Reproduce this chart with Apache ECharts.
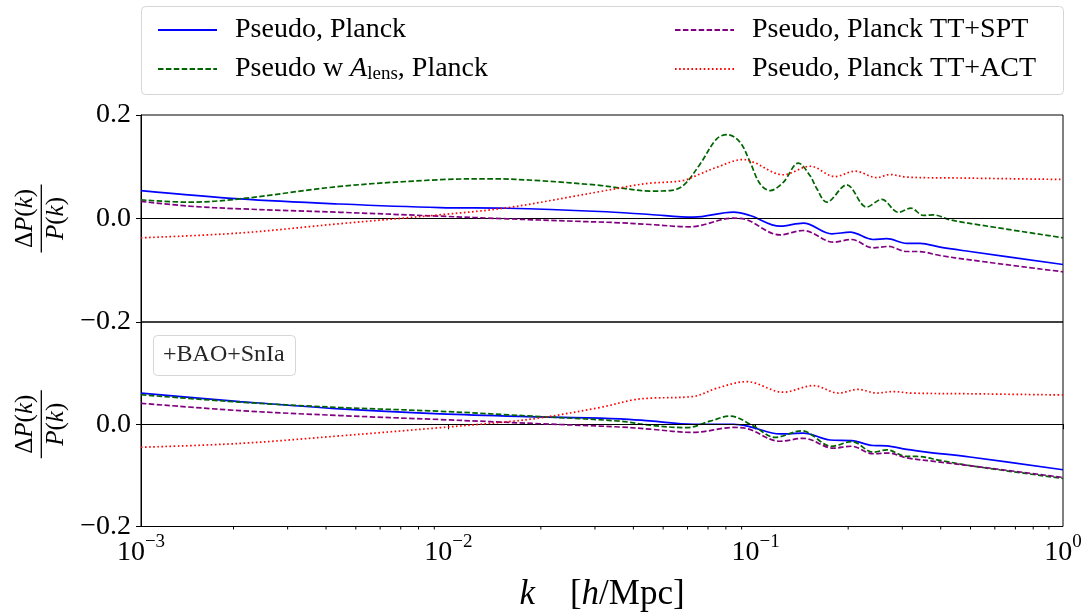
<!DOCTYPE html>
<html>
<head>
<meta charset="utf-8">
<script src="https://cdn.jsdelivr.net/npm/echarts@6/dist/echarts.min.js"></script>
<style>
  html, body { margin: 0; padding: 0; background: #fff; }
  #chart { width: 1089px; height: 613px; }
</style>
</head>
<body>
<div id="chart"></div>
<script>
// Relative power-spectrum deviation ΔP/P versus k, two panels:
// upper = Planck-only fits, lower = fits with +BAO+SnIa.

// ---- upper panel ----
const kPlanckU = [0.001, 0.0021, 0.00444, 0.0094, 0.0155, 0.0311, 0.0453, 0.0627, 0.0846, 0.0959, 0.120, 0.143, 0.177, 0.203, 0.241, 0.267, 0.310, 0.343, 0.398, 0.498, 1.0];
const dPlanckU = [0.054, 0.038, 0.028, 0.021, 0.0198, 0.0135, 0.0077, 0.0025, 0.0122, 0.0058, -0.0149, -0.009, -0.0296, -0.0264, -0.0406, -0.039, -0.048, -0.048, -0.0554, -0.0638, -0.0889];

const kAlensU = [0.001, 0.00144, 0.0021, 0.00444, 0.0094, 0.0137, 0.0199, 0.0311, 0.0362, 0.0453, 0.0526, 0.0582, 0.0659, 0.0747, 0.0811, 0.0889, 0.0959, 0.1033, 0.1114, 0.123, 0.1376, 0.1502, 0.158, 0.1703, 0.1978, 0.2298, 0.2571, 0.2911, 0.320, 0.3511, 0.3784, 0.4289, 0.492, 1.0];
const dAlensU = [0.036, 0.0315, 0.038, 0.062, 0.075, 0.0767, 0.073, 0.064, 0.059, 0.053, 0.054, 0.064, 0.105, 0.154, 0.162, 0.1475, 0.109, 0.067, 0.054, 0.070, 0.107, 0.083, 0.058, 0.0315, 0.065, 0.022, 0.037, 0.012, 0.020, 0.006, 0.007, -0.0025, -0.009, -0.0373];

const kSptU = [0.001, 0.00144, 0.0021, 0.00444, 0.0094, 0.0155, 0.0254, 0.0362, 0.0453, 0.0610, 0.0846, 0.0935, 0.120, 0.143, 0.179, 0.205, 0.241, 0.270, 0.310, 0.338, 0.398, 0.498, 1.0];
const dSptU = [0.033, 0.0238, 0.0187, 0.012, 0.0045, -0.0006, -0.0052, -0.0083, -0.0116, -0.016, 0.0006, -0.0025, -0.0315, -0.0232, -0.0457, -0.0406, -0.0567, -0.054, -0.0638, -0.0638, -0.0715, -0.080, -0.103];

const kActU = [0.001, 0.0021, 0.00444, 0.0094, 0.0155, 0.0254, 0.0311, 0.0362, 0.040, 0.0453, 0.0582, 0.0659, 0.0747, 0.0912, 0.0982, 0.123, 0.1502, 0.1812, 0.2104, 0.2476, 0.2735, 0.310, 0.498, 1.0];
const dActU = [-0.0373, -0.028, -0.010, 0.0072, 0.0207, 0.0425, 0.052, 0.059, 0.0638, 0.0683, 0.0734, 0.086, 0.099, 0.114, 0.109, 0.0845, 0.101, 0.081, 0.0914, 0.079, 0.085, 0.080, 0.078, 0.0754];

// ---- lower panel (+BAO+SnIa) ----
const kPlanckL = [0.001, 0.0021, 0.00444, 0.0094, 0.0199, 0.0362, 0.0453, 0.0627, 0.0846, 0.0959, 0.120, 0.143, 0.1745, 0.2053, 0.2414, 0.2669, 0.310, 0.360, 0.498, 1.0];
const dPlanckL = [0.0607, 0.0444, 0.030, 0.0204, 0.0144, 0.0106, 0.0065, 0.0, 0.0, -0.005, -0.019, -0.0173, -0.0308, -0.032, -0.0416, -0.0423, -0.0493, -0.0545, -0.064, -0.089];

const kAlensL = [0.001, 0.0021, 0.00444, 0.0094, 0.0199, 0.0362, 0.0453, 0.0596, 0.0711, 0.0825, 0.0982, 0.1156, 0.1412, 0.1768, 0.2053, 0.2414, 0.2669, 0.310, 0.334, 0.398, 0.498, 1.0];
const dAlensL = [0.0577, 0.0433, 0.0327, 0.0254, 0.015, 0.006, -0.0019, -0.0067, 0.006, 0.016, -0.0032, -0.0256, -0.0128, -0.043, -0.034, -0.0545, -0.050, -0.063, -0.063, -0.0706, -0.081, -0.106];

const kSptL = [0.001, 0.0021, 0.00444, 0.0094, 0.0199, 0.0362, 0.0453, 0.0627, 0.0846, 0.0935, 0.120, 0.143, 0.179, 0.205, 0.241, 0.270, 0.310, 0.398, 0.498, 1.0];
const dSptL = [0.041, 0.0266, 0.017, 0.0092, 0.001, -0.0054, -0.0096, -0.016, -0.0063, -0.0083, -0.0333, -0.0275, -0.0467, -0.043, -0.0577, -0.0564, -0.0657, -0.074, -0.081, -0.104];

const kActL = [0.001, 0.0021, 0.00444, 0.0094, 0.0155, 0.0199, 0.0311, 0.040, 0.0453, 0.0627, 0.0747, 0.0935, 0.123, 0.154, 0.1858, 0.2158, 0.2476, 0.2805, 0.318, 0.498, 1.0];
const dActL = [-0.045, -0.0375, -0.0227, -0.0067, 0.0048, 0.0125, 0.0327, 0.0477, 0.051, 0.0544, 0.0704, 0.0833, 0.0627, 0.0756, 0.061, 0.0683, 0.061, 0.064, 0.061, 0.0596, 0.0573];

const seriesNames = ['Pseudo, Planck', 'Pseudo w A_lens, Planck', 'Pseudo, Planck TT+SPT', 'Pseudo, Planck TT+ACT'];
const panelNote = '+BAO+SnIa';

const FONT = '"Liberation Serif", "DejaVu Serif", serif';

const zip = (ks, ds) => ks.map((k, i) => [k, ds[i]]);

const styles = [
  { color: '#0000ff', type: 'solid' },
  { color: '#006400', type: [5.5, 2.4] },
  { color: '#800080', type: [5.5, 2.4] },
  { color: '#ff0000', type: [1.6, 2.5] }
];

const panels = [
  [zip(kPlanckU, dPlanckU), zip(kAlensU, dAlensU), zip(kSptU, dSptU), zip(kActU, dActU)],
  [zip(kPlanckL, dPlanckL), zip(kAlensL, dAlensL), zip(kSptL, dSptL), zip(kActL, dActL)]
];

// minor log ticks 2..9 per decade on the shared k axis
const minorTicks = [];
for (let e = -3; e < 0; e++) {
  for (let m = 2; m <= 9; m++) minorTicks.push(m * Math.pow(10, e));
}

const fmtY = v => (v < -1e-9 ? '\u2212' : '') + Math.abs(v).toFixed(1);

const fracRich = {
  u: { fontFamily: FONT, fontSize: 25, lineHeight: 26, color: '#000' },
  i: { fontFamily: FONT, fontSize: 25, lineHeight: 26, fontStyle: 'italic', color: '#000' },
  bar: { width: 68, height: 1.3, lineHeight: 5, backgroundColor: '#000' }
};
const fracName = '{u|\u0394}{i|P}{u|(}{i|k}{u|)}\n{bar| }\n{i|P}{u|(}{i|k}{u|)}';

function yAxisFor(idx) {
  return {
    type: 'value', gridIndex: idx, min: -0.2, max: 0.2, interval: 0.2,
    axisLine: { show: true, lineStyle: { color: '#000', width: 1 } },
    axisTick: { show: true, length: 5, inside: false, lineStyle: { color: '#000', width: 1 } },
    splitLine: { show: false },
    axisLabel: {
      margin: 10, fontFamily: FONT, fontSize: 28, color: '#000',
      formatter: v => (idx === 1 && v > 0.1) ? '' : fmtY(v)
    },
    name: fracName,
    nameLocation: 'middle', nameRotate: 90, nameGap: 71,
    nameTextStyle: { rich: fracRich, align: 'center' }
  };
}

const series = [];
panels.forEach((sets, p) => {
  sets.forEach((data, s) => {
    series.push({
      name: seriesNames[s], type: 'line', xAxisIndex: p, yAxisIndex: p,
      data: data, smooth: 0.35, symbol: 'none', showSymbol: false,
      lineStyle: { color: styles[s].color, width: 1.7, type: styles[s].type, cap: 'butt' },
      itemStyle: { color: styles[s].color },
      z: 3 + s,
      markLine: s === 0 ? {
        silent: true, symbol: 'none', animation: false,
        label: { show: false },
        lineStyle: { color: '#000', width: 1, type: 'solid' },
        data: [{ yAxis: 0 }]
      } : undefined
    });
  });
});

series.push({
  type: 'custom', xAxisIndex: 1, yAxisIndex: 1, clip: false, silent: true,
  data: minorTicks.map(k => [k, -0.2]),
  renderItem: (params, api) => {
    const p = api.coord([api.value(0), api.value(1)]);
    return { type: 'line', shape: { x1: p[0], y1: p[1], x2: p[0], y2: p[1] + 3 },
             style: { stroke: '#000', lineWidth: 1 } };
  }
});

const legendRich = {
  n: { fontFamily: FONT, fontSize: 28, lineHeight: 30, color: '#000' },
  i: { fontFamily: FONT, fontSize: 28, lineHeight: 30, fontStyle: 'italic', color: '#000' },
  sub: { fontFamily: FONT, fontSize: 19, lineHeight: 15, verticalAlign: 'bottom', color: '#000' }
};
const legendFmt = name => name === 'Pseudo w A_lens, Planck'
  ? '{n|Pseudo w }{i|A}{sub|lens}{n|, Planck}'
  : '{n|' + name + '}';

function legendAt(left, names) {
  return {
    orient: 'vertical', left: left, top: 11, itemWidth: 59, itemHeight: 14, itemGap: 11,
    selectedMode: false, data: names, formatter: legendFmt,
    itemStyle: { opacity: 0, borderWidth: 0 },
    textStyle: { fontFamily: FONT, fontSize: 28, color: '#000', padding: [0, 0, 0, 13], rich: legendRich }
  };
}

const xTickFmt = v => {
  const e = Math.round(Math.log10(v));
  return '{b|10}{s|' + (e < 0 ? '\u2212' + (-e) : String(e)) + '}';
};

const option = {
  animation: false,
  backgroundColor: '#fff',
  graphic: [{
    type: 'rect', left: 141, top: 6, z: -1,
    shape: { width: 922, height: 88, r: 4 },
    style: { fill: '#fff', stroke: '#d6d6d6', lineWidth: 1 }
  }],
  title: {
    text: panelNote, left: 153, top: 335,
    padding: [6, 11, 7, 10],
    borderColor: '#d6d6d6', borderWidth: 1, borderRadius: 4, backgroundColor: '#fff',
    textStyle: { fontFamily: FONT, fontSize: 24, fontWeight: 'normal', color: '#262626', lineHeight: 28 }
  },
  legend: [
    legendAt(152, [seriesNames[0], seriesNames[1]]),
    legendAt(669, [seriesNames[2], seriesNames[3]])
  ],
  grid: [
    { left: 141, top: 115, width: 922, height: 207, show: true, borderColor: '#000', borderWidth: 1 },
    { left: 141, top: 322, width: 922, height: 208, show: true, borderColor: '#000', borderWidth: 1 }
  ],
  xAxis: [
    { type: 'log', logBase: 10, gridIndex: 0, min: 0.001, max: 1,
      axisLine: { show: true, lineStyle: { color: '#000' } },
      axisTick: { show: false }, axisLabel: { show: false }, splitLine: { show: false } },
    { type: 'log', logBase: 10, gridIndex: 1, min: 0.001, max: 1,
      axisLine: { show: true, lineStyle: { color: '#000', width: 1 } },
      axisTick: { show: true, length: 5, inside: false, lineStyle: { color: '#000', width: 1 } },
      splitLine: { show: false }, minorTick: { show: false },
      axisLabel: {
        margin: 6, formatter: xTickFmt,
        rich: {
          b: { fontFamily: FONT, fontSize: 28, lineHeight: 40, color: '#000' },
          s: { fontFamily: FONT, fontSize: 19, lineHeight: 18, verticalAlign: 'top', color: '#000' }
        }
      },
      name: '{i|k}{n|\u2003[}{i|h}{n|/Mpc]}',
      nameLocation: 'middle', nameGap: 48,
      nameTextStyle: {
        rich: {
          i: { fontFamily: FONT, fontSize: 35, fontStyle: 'italic', color: '#000', lineHeight: 40 },
          n: { fontFamily: FONT, fontSize: 35, color: '#000', lineHeight: 40 }
        }
      }
    }
  ],
  yAxis: [yAxisFor(0), yAxisFor(1)],
  series: series
};

const chart = echarts.init(document.getElementById('chart'), null, { renderer: 'canvas' });
chart.setOption(option);
</script>
</body>
</html>
